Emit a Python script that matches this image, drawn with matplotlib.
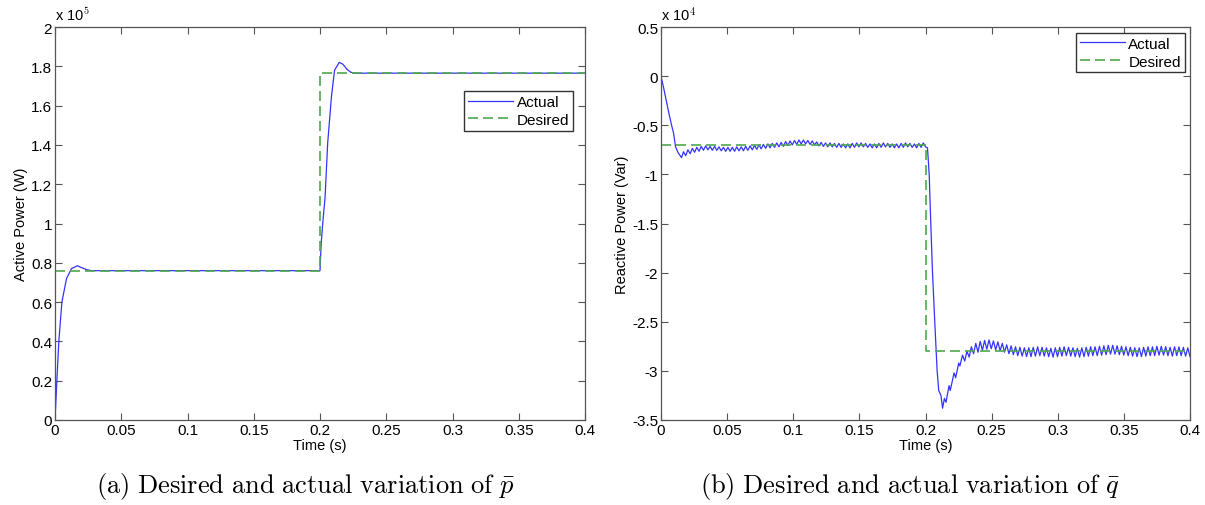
import numpy as np
import matplotlib.pyplot as plt

# ---- data ----
# active power, units of 1e5 W
p_t = [0, 0.0014, 0.0029, 0.0052, 0.0087, 0.0124, 0.0168, 0.0202, 0.024, 0.0275, 0.1, 0.2,
       0.2009, 0.2023, 0.2038, 0.2058, 0.2087, 0.211, 0.2145, 0.2174, 0.2203, 0.2232, 0.226, 0.4]
p_actual = [0, 0.2, 0.4, 0.6, 0.72, 0.77, 0.785, 0.775, 0.765, 0.76, 0.76, 0.76,
            0.9, 1.02, 1.13, 1.41, 1.65, 1.78, 1.82, 1.81, 1.785, 1.77, 1.765, 1.765]
p_des_t = [0, 0.2, 0.2, 0.4]
p_desired = [0.76, 0.76, 1.765, 1.765]

# reactive power, units of 1e4 Var
q_start_t = [0, 0.002, 0.004, 0.006, 0.008, 0.0095, 0.011, 0.013, 0.0155]
q_start = [0, -0.12, -0.25, -0.38, -0.5, -0.58, -0.72, -0.78, -0.83]
# ripple peaks / troughs, 0.017 s .. 0.2 s
q_pre_hi = [-0.77, -0.75, -0.735, -0.725, -0.715, -0.71, -0.715, -0.715, -0.72, -0.725, -0.725,
            -0.725, -0.72, -0.72, -0.715, -0.71, -0.705, -0.70, -0.695, -0.69, -0.685, -0.68,
            -0.675, -0.665, -0.66, -0.655, -0.65, -0.65, -0.655, -0.66, -0.67, -0.675, -0.68,
            -0.68, -0.685, -0.685, -0.69, -0.69, -0.685, -0.68, -0.68, -0.685, -0.69, -0.69,
            -0.685, -0.68, -0.685, -0.69, -0.69, -0.685, -0.68, -0.685, -0.69, -0.685, -0.68]
q_pre_lo = [-0.81, -0.79, -0.775, -0.765, -0.755, -0.75, -0.755, -0.755, -0.76, -0.765, -0.765,
            -0.765, -0.76, -0.76, -0.755, -0.75, -0.745, -0.74, -0.735, -0.73, -0.725, -0.72,
            -0.715, -0.705, -0.70, -0.695, -0.69, -0.69, -0.695, -0.70, -0.71, -0.715, -0.72,
            -0.72, -0.725, -0.725, -0.73, -0.73, -0.725, -0.72, -0.72, -0.725, -0.73, -0.73,
            -0.725, -0.72, -0.725, -0.73, -0.73, -0.725, -0.72, -0.725, -0.73, -0.725, -0.72]
q_step_t = [0.2015, 0.2028, 0.204, 0.2053, 0.207, 0.2088, 0.21, 0.2117, 0.2129, 0.2143, 0.2155,
            0.2178, 0.2187, 0.2216, 0.2228, 0.2251, 0.226]
q_step = [-0.73, -1.0, -1.5, -2.0, -2.5, -3.0, -3.2, -3.25, -3.38, -3.28, -3.32,
          -3.15, -3.2, -3.02, -3.07, -2.92, -2.95]
# ripple peaks / troughs, 0.228 s .. 0.4 s
q_post_hi = [-2.84, -2.80, -2.755, -2.72, -2.70, -2.69, -2.685, -2.695, -2.705, -2.72, -2.735,
             -2.745, -2.755, -2.76,
             -2.765, -2.765, -2.76, -2.755, -2.76, -2.765, -2.77, -2.765, -2.76, -2.755, -2.76,
             -2.765, -2.77, -2.765, -2.76, -2.755, -2.755, -2.75, -2.745, -2.74, -2.74, -2.745,
             -2.75, -2.755, -2.76, -2.765, -2.765, -2.76, -2.755, -2.755, -2.75, -2.75, -2.755,
             -2.76, -2.755, -2.755, -2.76, -2.765]
q_post_lo = [-2.90, -2.86, -2.825, -2.81, -2.79, -2.78, -2.775, -2.785, -2.795, -2.81, -2.825,
             -2.835, -2.845, -2.85,
             -2.855, -2.855, -2.85, -2.845, -2.85, -2.855, -2.86, -2.855, -2.85, -2.845, -2.85,
             -2.855, -2.86, -2.855, -2.85, -2.845, -2.845, -2.84, -2.835, -2.83, -2.83, -2.835,
             -2.84, -2.845, -2.85, -2.855, -2.855, -2.85, -2.845, -2.845, -2.84, -2.84, -2.845,
             -2.85, -2.845, -2.845, -2.85, -2.855]
q_des_t = [0, 0.2, 0.2, 0.4]
q_desired = [-0.7, -0.7, -2.8, -2.8]

time_ticks = [0, 0.05, 0.1, 0.15, 0.2, 0.25, 0.3, 0.35, 0.4]
time_labels = ['0', '0.05', '0.1', '0.15', '0.2', '0.25', '0.3', '0.35', '0.4']
p_ticks = [0, 0.2, 0.4, 0.6, 0.8, 1, 1.2, 1.4, 1.6, 1.8, 2]
q_ticks = [-3.5, -3, -2.5, -2, -1.5, -1, -0.5, 0, 0.5]


def interleave(hi, lo):
    return np.column_stack((hi, lo)).ravel()


q_t = np.concatenate([q_start_t,
                      np.linspace(0.017, 0.2, 2 * len(q_pre_hi)),
                      q_step_t,
                      np.linspace(0.228, 0.4, 2 * len(q_post_hi))])
q_actual = np.concatenate([q_start, interleave(q_pre_hi, q_pre_lo),
                           q_step, interleave(q_post_hi, q_post_lo)])

plt.rcParams['font.family'] = ['Liberation Sans', 'DejaVu Sans']
plt.rcParams['mathtext.fontset'] = 'cm'

BLUE = '#3333ff'
GREEN = '#4fa84f'
SPINE = '#555555'

W, H = 1205, 506
fig = plt.figure(figsize=(W / 100, H / 100), dpi=100)
ax1 = fig.add_axes([55 / W, 1 - 421 / H, 530 / W, 393 / H])
ax2 = fig.add_axes([661 / W, 1 - 421 / H, 529 / W, 393 / H])


def style(ax, yticks, ylabel, exponent):
    ax.set_xlim(0, 0.4)
    ax.set_ylim(yticks[0], yticks[-1])
    ax.set_xticks(time_ticks)
    ax.set_xticklabels(time_labels)
    ax.set_yticks(yticks)
    ax.set_yticklabels(['%g' % v for v in yticks])
    ax.tick_params(direction='in', top=True, right=True, length=5, width=0.8,
                   color=SPINE, labelsize=11, pad=2)
    for s in ax.spines.values():
        s.set_color(SPINE)
        s.set_linewidth(0.9)
    ax.set_xlabel('Time (s)', fontsize=10.5, labelpad=1)
    ax.set_ylabel(ylabel, fontsize=10.5, labelpad=2)
    ax.text(0.0, 1.01, r'x 10$^{%d}$' % exponent, transform=ax.transAxes,
            fontsize=10.5, ha='left', va='bottom')


legend_kw = dict(loc='upper right', borderaxespad=0, fontsize=11, handlelength=3,
                 fancybox=False, framealpha=1, edgecolor='#333333', borderpad=0.25,
                 labelspacing=0.25, handletextpad=0.2)

ax1.plot(p_t, p_actual, color=BLUE, lw=0.9, label='Actual')
ax1.plot(p_des_t, p_desired, color=GREEN, lw=1.2, dashes=(6, 3), label='Desired')
style(ax1, p_ticks, 'Active Power (W)', 5)
ax1.legend(bbox_to_anchor=(0.977, 0.837), **legend_kw)

ax2.plot(q_t, q_actual, color=BLUE, lw=0.9, label='Actual')
ax2.plot(q_des_t, q_desired, color=GREEN, lw=1.2, dashes=(6, 3), label='Desired')
style(ax2, q_ticks, 'Reactive Power (Var)', 4)
ax2.legend(bbox_to_anchor=(0.99, 0.985), **legend_kw)

fig.text(305 / W, 1 - 487 / H, r'$\mathrm{(a)\ Desired\ and\ actual\ variation\ of\ }\bar{p}$',
         ha='center', va='center', fontsize=19)
fig.text(910 / W, 1 - 487 / H, r'$\mathrm{(b)\ Desired\ and\ actual\ variation\ of\ }\bar{q}$',
         ha='center', va='center', fontsize=19)

fig.savefig('out.png', dpi=100)
